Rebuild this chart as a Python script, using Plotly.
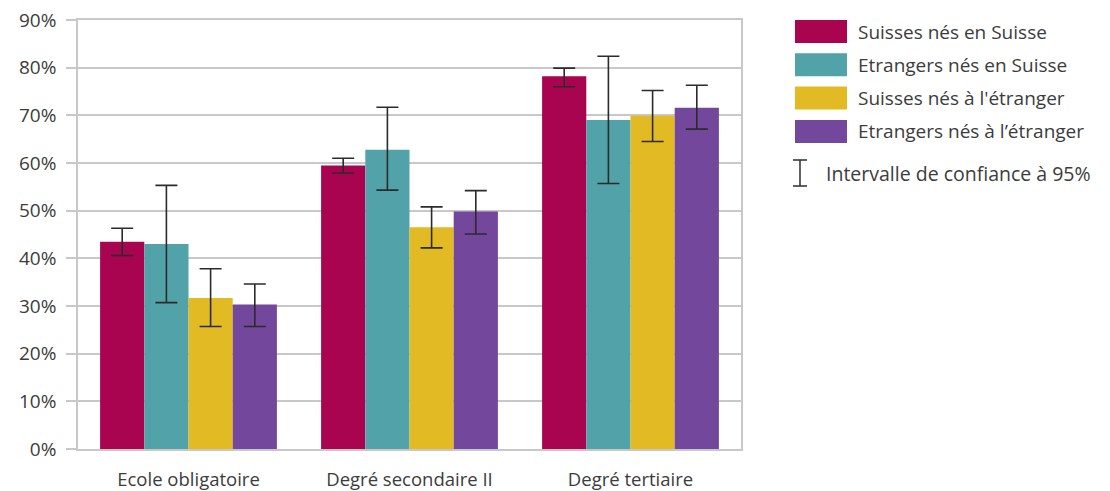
import plotly.graph_objects as go

# Education level categories
categories = ["Ecole obligatoire", "Degré secondaire II", "Degré tertiaire"]

# Series names and colours
series_names = [
    "Suisses nés en Suisse",
    "Etrangers nés en Suisse",
    "Suisses nés à l'étranger",
    "Etrangers nés à l’étranger",
]
series_colors = ["#A8044F", "#52A3A9", "#E2BA23", "#73479B"]

# Shares (%) per series, one value per category
suisses_suisse = [43.5, 59.5, 78.2]
etrangers_suisse = [43.0, 62.8, 69.0]
suisses_etranger = [31.7, 46.5, 69.9]
etrangers_etranger = [30.3, 49.8, 71.6]

# 95% confidence interval bounds (%)
ci_high = [
    [46.3, 61.0, 79.9],
    [55.3, 71.7, 82.4],
    [37.8, 50.8, 75.2],
    [34.6, 54.2, 76.3],
]
ci_low = [
    [40.6, 57.9, 76.0],
    [30.7, 54.3, 55.7],
    [25.7, 42.2, 64.5],
    [25.7, 45.1, 67.1],
]

y_ticks = [0, 10, 20, 30, 40, 50, 60, 70, 80, 90]
y_tick_labels = [f"{v}%" for v in y_ticks]
ci_label = "Intervalle de confiance à 95%"

series_values = [suisses_suisse, etrangers_suisse, suisses_etranger, etrangers_etranger]

FONT = "Open Sans"
TEXT_COLOR = "#3c3c3c"
GRID = "#c8c8c8"

W, H = 1110, 491
M_L, M_R, M_T, M_B = 78, 369, 20, 42
PW, PH = W - M_L - M_R, H - M_T - M_B


def px_x(x):
    return (x - M_L) / PW


def px_y(y):
    return (H - M_B - y) / PH


fig = go.Figure()
for name, color, vals, hi, lo in zip(series_names, series_colors, series_values, ci_high, ci_low):
    fig.add_trace(
        go.Bar(
            x=categories,
            y=vals,
            name=name,
            marker=dict(color=color, line=dict(width=0)),
            error_y=dict(
                type="data",
                symmetric=False,
                array=[h - v for h, v in zip(hi, vals)],
                arrayminus=[v - l for v, l in zip(vals, lo)],
                color="#2b2b2b",
                thickness=1.6,
                width=11,
            ),
            showlegend=False,
        )
    )

# Custom legend: large swatches on the right
shapes = []
annotations = []
row_top = 20
row_step = 33.3
for i, (name, color) in enumerate(zip(series_names, series_colors)):
    y0 = row_top + i * row_step
    shapes.append(
        dict(
            type="rect", xref="paper", yref="paper",
            x0=px_x(795), x1=px_x(847), y0=px_y(y0 + 23), y1=px_y(y0),
            fillcolor=color, line=dict(width=0),
        )
    )
    annotations.append(
        dict(
            xref="paper", yref="paper", x=px_x(856), y=px_y(y0 + 11.5),
            text=name, showarrow=False, xanchor="left", yanchor="middle",
            font=dict(family=FONT, size=19, color=TEXT_COLOR),
        )
    )

# Confidence-interval legend symbol
cx, ytop, ybot = 800, 160, 186
sym_line = dict(color="#3a3a3a", width=1.6)
shapes += [
    dict(type="line", xref="paper", yref="paper", x0=px_x(cx), x1=px_x(cx),
         y0=px_y(ybot), y1=px_y(ytop), line=sym_line),
    dict(type="line", xref="paper", yref="paper", x0=px_x(cx - 7), x1=px_x(cx + 7),
         y0=px_y(ytop), y1=px_y(ytop), line=sym_line),
    dict(type="line", xref="paper", yref="paper", x0=px_x(cx - 7), x1=px_x(cx + 7),
         y0=px_y(ybot), y1=px_y(ybot), line=sym_line),
]
annotations.append(
    dict(
        xref="paper", yref="paper", x=px_x(824), y=px_y(174),
        text=ci_label, showarrow=False, xanchor="left", yanchor="middle",
        font=dict(family=FONT, size=19.5, color=TEXT_COLOR),
    )
)

fig.update_layout(
    width=W,
    height=H,
    margin=dict(l=M_L, r=M_R, t=M_T, b=M_B, autoexpand=False),
    paper_bgcolor="white",
    plot_bgcolor="white",
    barmode="group",
    bargap=0.2,
    bargroupgap=0,
    font=dict(family=FONT, size=18, color=TEXT_COLOR),
    shapes=shapes,
    annotations=annotations,
    xaxis=dict(
        automargin=False,
        showgrid=False,
        showline=True,
        linecolor=GRID,
        linewidth=1.5,
        mirror=True,
        ticks="outside",
        ticklen=13,
        tickcolor="rgba(0,0,0,0)",
        tickfont=dict(family=FONT, size=18.5, color=TEXT_COLOR),
    ),
    yaxis=dict(
        automargin=False,
        range=[0, 90],
        tickvals=y_ticks,
        ticktext=y_tick_labels,
        showgrid=True,
        gridcolor=GRID,
        gridwidth=1.5,
        showline=True,
        linecolor=GRID,
        linewidth=1.5,
        mirror=True,
        ticks="outside",
        ticklen=10,
        tickcolor=GRID,
        tickwidth=1.5,
        ticklabelstandoff=6,
        zeroline=False,
        tickfont=dict(family=FONT, size=19, color=TEXT_COLOR),
    ),
)

fig.write_html("out.html")
